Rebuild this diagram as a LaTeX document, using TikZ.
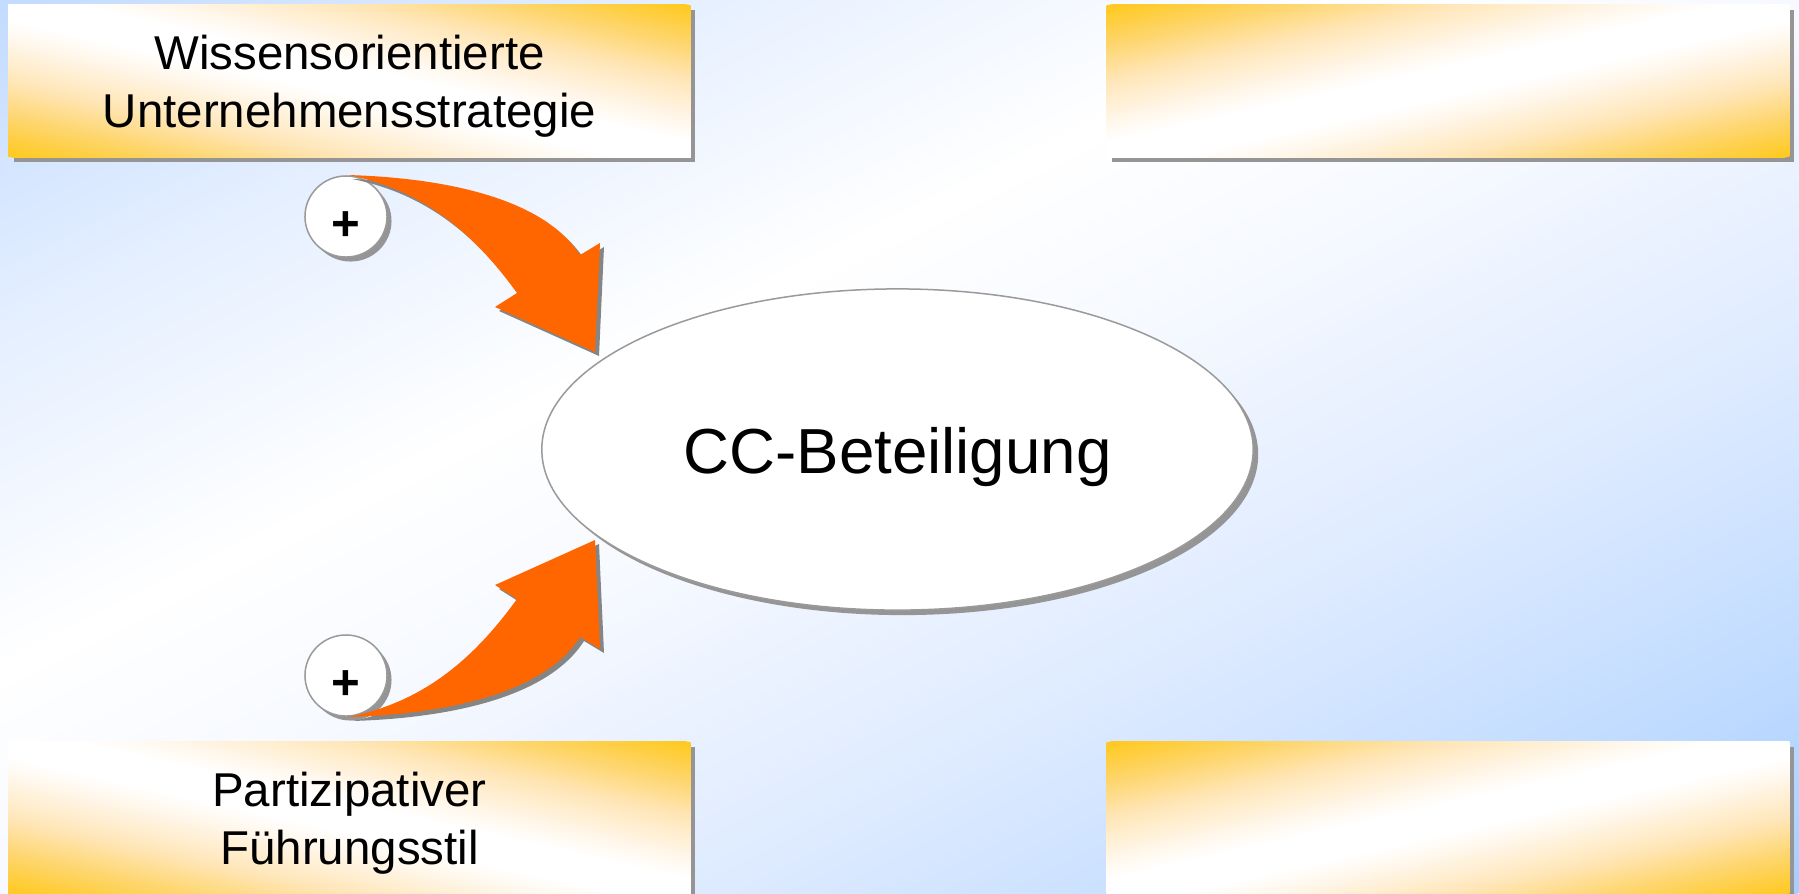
\documentclass[tikz,border=0pt]{standalone}
\usepackage{fontspec}
\setmainfont{Liberation Sans}
\usetikzlibrary{shapes.geometric,shadows}
\definecolor{boxyel}{HTML}{FFC91E}
\definecolor{shadowgrey}{HTML}{959595}
\definecolor{edgegrey}{HTML}{9A9A9A}
\definecolor{arroworange}{HTML}{FF6600}
\definecolor{arrowshadow}{HTML}{858585}
\definecolor{bgA}{HTML}{C2DBFF}
\definecolor{bgB}{HTML}{E3EEFF}
\definecolor{bgC}{HTML}{F6F9FF}
\definecolor{bgD}{HTML}{DDEAFF}
\definecolor{bgE}{HTML}{C3DDFF}
\definecolor{bgF}{HTML}{A8CEFF}
\definecolor{yB}{HTML}{FED56A}
\definecolor{yC}{HTML}{FFE6B8}
\definecolor{yD}{HTML}{FFF6E8}
\pgfdeclarehorizontalshading{bgshade}{100bp}{color(0bp)=(bgA); color(25bp)=(bgA); color(33.75bp)=(bgB); color(43.75bp)=(white); color(50bp)=(bgC); color(60bp)=(bgD); color(67.5bp)=(bgE); color(75bp)=(bgF); color(100bp)=(bgF)}
\pgfdeclarehorizontalshading{boxshade}{100bp}{color(0bp)=(boxyel); color(25bp)=(boxyel); color(31.25bp)=(yB); color(37.5bp)=(yC); color(43.75bp)=(yD); color(47.5bp)=(white); color(52.5bp)=(white); color(56.25bp)=(yD); color(62.5bp)=(yC); color(68.75bp)=(yB); color(75bp)=(boxyel); color(100bp)=(boxyel)}
\begin{document}
\begin{tikzpicture}[x=0.01cm,y=-0.01cm,
  box/.style={rectangle, fill=white, minimum width=6.81cm, minimum height=1.52cm, inner sep=0pt,
    drop shadow={shadow xshift=0.05cm, shadow yshift=-0.05cm, fill=shadowgrey, opacity=1}},
  boxtext/.style={align=center, inner sep=0pt, font=\fontsize{13.5}{16.5}\selectfont},
  boxfillL/.style={shading=boxshade, transform canvas={shift={(#1)}, rotate=77.4}},
  boxfillR/.style={shading=boxshade, transform canvas={shift={(#1)}, rotate=-77.4}},
  mainell/.style={ellipse, fill=white, draw=edgegrey, line width=0.015cm, minimum width=7.11cm, minimum height=3.21cm, inner sep=0pt,
    font=\fontsize{18.1}{22}\selectfont, text height=0.60cm, text depth=0.13cm,
    drop shadow={shadow xshift=0.05cm, shadow yshift=-0.05cm, fill=shadowgrey, opacity=1}},
  plusnode/.style={ellipse, fill=white, draw=edgegrey, line width=0.015cm, minimum width=0.82cm, minimum height=0.81cm, inner sep=0pt,
    font=\fontsize{14}{16}\bfseries\selectfont, text height=0pt, text depth=0pt,
    drop shadow={shadow xshift=0.045cm, shadow yshift=-0.045cm, fill=shadowgrey, opacity=1}},
  bigarrow/.style={fill=arroworange,
    drop shadow={shadow xshift=0.04cm, shadow yshift=-0.04cm, fill=arrowshadow, opacity=1}}
]
\useasboundingbox (0,0) rectangle (1799,893);
\clip (0,0) rectangle (1799,893);
\shade[shading=bgshade, transform canvas={shift={(899.5,446.5)}, rotate=-63.6}] (-800,-1100) rectangle (800,1100);

% boxes
\node[box] (tl) at (349.5,81) {};
\node[box] (tr) at (1448,81) {};
\node[box] (bl) at (349.5,818) {};
\node[box] (br) at (1448,818) {};

\begin{scope}
  \clip (tl.north west) rectangle (tl.south east);
  \shade[boxfillL=tl.center] (-148.3,-360) rectangle (148.3,360);
\end{scope}
\begin{scope}
  \clip (tr.north west) rectangle (tr.south east);
  \shade[boxfillR=tr.center] (-148.3,-360) rectangle (148.3,360);
\end{scope}
\begin{scope}
  \clip (bl.north west) rectangle (bl.south east);
  \shade[boxfillL=bl.center] (-148.3,-360) rectangle (148.3,360);
\end{scope}
\begin{scope}
  \clip (br.north west) rectangle (br.south east);
  \shade[boxfillR=br.center] (-148.3,-360) rectangle (148.3,360);
\end{scope}

\node[boxtext] (tltext) at ([yshift=-0.05cm]tl.center) {Wissensorientierte\\Unternehmensstrategie};
\node[boxtext] (bltext) at ([yshift=-0.05cm]bl.center) {Partizipativer\\Führungsstil};

\node[mainell] (cc) at (897.5,449.5) {CC-Beteiligung};

\node[plusnode] (p1) at (346,216.5) {\raisebox{-0.235cm}{+}};
\node[plusnode] (p2) at (346,675.5) {\raisebox{-0.235cm}{+}};

\coordinate (t1) at (348,175);
\coordinate (t2) at (348,717);

\path[bigarrow] (t1) .. controls (450,178) and (545,200) .. (580,255) -- (600,243) -- (595,352) -- (495,307) -- (517,293) .. controls (475,235) and (425,190) .. (t1) -- cycle;
\path[bigarrow] (t2) .. controls (450,714) and (545,692) .. (580,637) -- (600,649) -- (595,540) -- (495,585) -- (517,599) .. controls (475,657) and (425,702) .. (t2) -- cycle;
\end{tikzpicture}
\end{document}
